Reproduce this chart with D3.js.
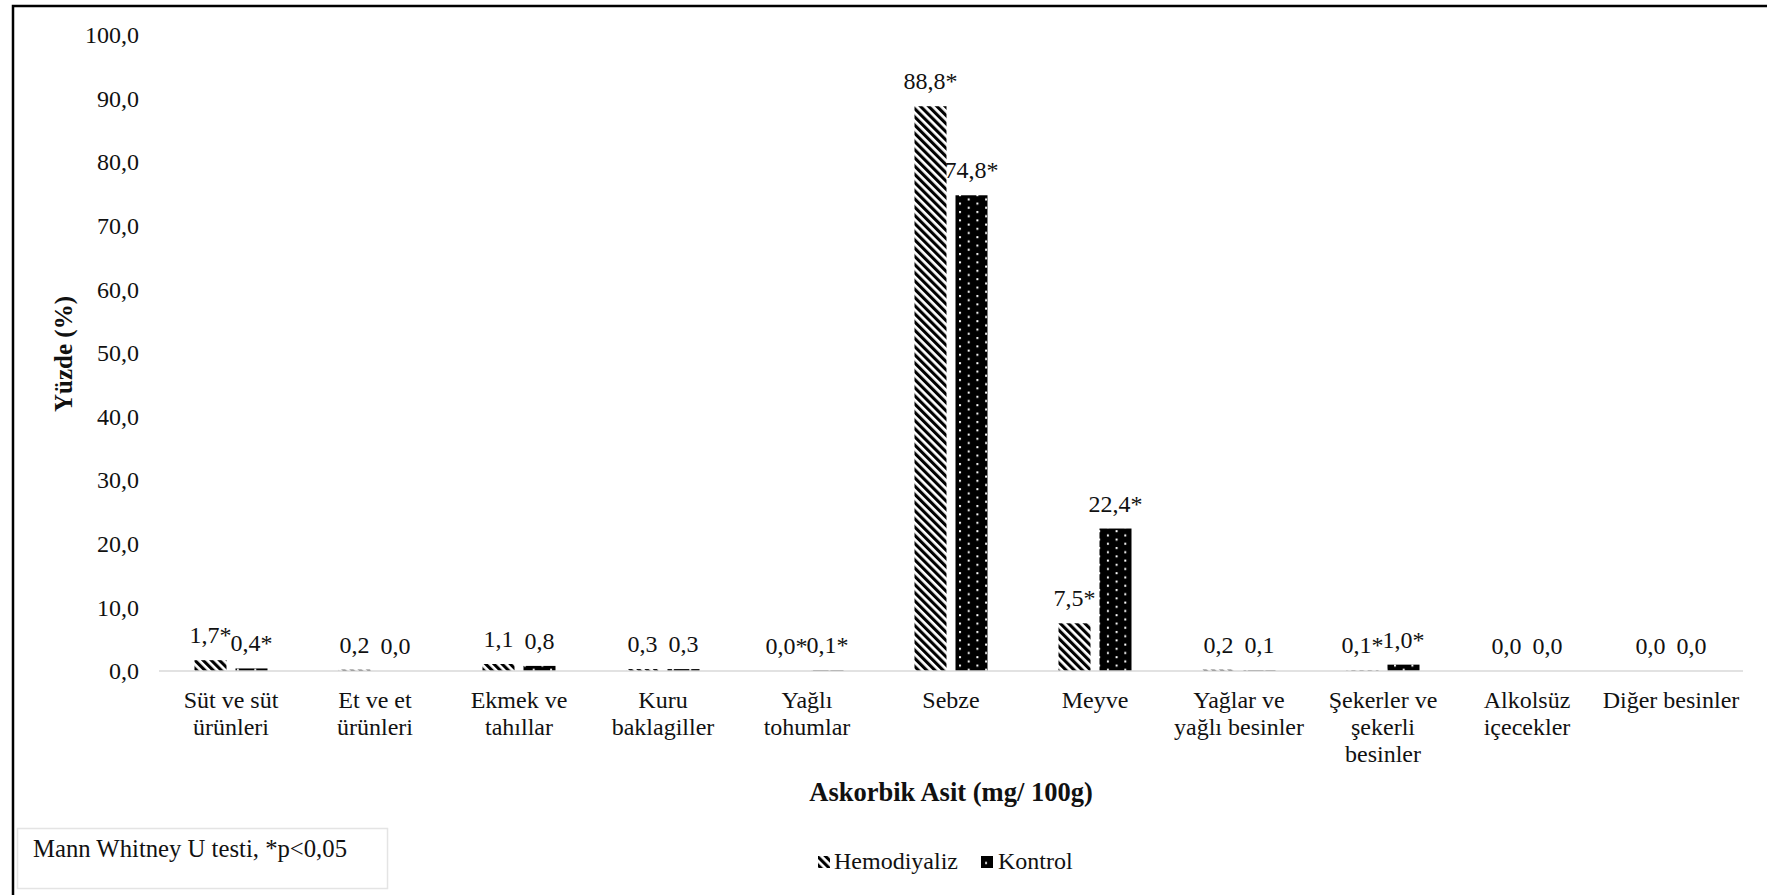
<!DOCTYPE html>
<html>
<head>
<meta charset="utf-8">
<script src="https://cdn.jsdelivr.net/npm/d3@7"></script>
<style>
  html, body { margin: 0; padding: 0; background: #fff; }
  svg { display: block; }
  text { font-family: "Liberation Serif", "Times New Roman", serif; fill: #111; }
</style>
</head>
<body>
<svg id="chart" width="1767" height="895"></svg>
<script>
// Food groups (x-axis categories), with their wrapped label lines
const categories = [
  "Süt ve süt ürünleri", "Et ve et ürünleri", "Ekmek ve tahıllar", "Kuru baklagiller",
  "Yağlı tohumlar", "Sebze", "Meyve", "Yağlar ve yağlı besinler",
  "Şekerler ve şekerli besinler", "Alkolsüz içecekler", "Diğer besinler"
];
const categoryLines = [
  ["Süt ve süt", "ürünleri"], ["Et ve et", "ürünleri"], ["Ekmek ve", "tahıllar"],
  ["Kuru", "baklagiller"], ["Yağlı", "tohumlar"], ["Sebze"], ["Meyve"],
  ["Yağlar ve", "yağlı besinler"], ["Şekerler ve", "şekerli", "besinler"],
  ["Alkolsüz", "içecekler"], ["Diğer besinler"]
];

// Share of ascorbic acid intake (%) per group
const seriesNames = ["Hemodiyaliz", "Kontrol"];
const hemodiyaliz = [1.7, 0.2, 1.1, 0.3, 0.0, 88.8, 7.5, 0.2, 0.1, 0.0, 0.0];
const kontrol     = [0.4, 0.0, 0.8, 0.3, 0.1, 74.8, 22.4, 0.1, 1.0, 0.0, 0.0];
// Mann Whitney U, p<0.05 markers
const hemodiyalizSig = [true, false, false, false, true, true, true, false, true, false, false];
const kontrolSig     = [true, false, false, false, true, true, true, false, true, false, false];

const yTicks = [0, 10, 20, 30, 40, 50, 60, 70, 80, 90, 100];
const xTitle = "Askorbik Asit (mg/ 100g)";
const yTitle = "Yüzde (%)";
const footnote = "Mann Whitney U testi, *p<0,05";

const fmt = v => d3.format(".1f")(v).replace(".", ",");

const svg = d3.select("#chart");
const defs = svg.append("defs");

// Diagonal hatch for Hemodiyaliz
const hatch = defs.append("pattern")
  .attr("id", "hatch").attr("patternUnits", "userSpaceOnUse")
  .attr("width", 5.8).attr("height", 8)
  .attr("patternTransform", "rotate(-45)");
hatch.append("rect").attr("width", 5.8).attr("height", 8).attr("fill", "#fff");
hatch.append("rect").attr("width", 3.1).attr("height", 8).attr("fill", "#000");

// Black fill with staggered white dots for Kontrol
const dots = defs.append("pattern")
  .attr("id", "dots").attr("patternUnits", "userSpaceOnUse")
  .attr("x", 2).attr("y", 0)
  .attr("width", 17.4).attr("height", 8.4);
dots.append("rect").attr("width", 17.4).attr("height", 8.4).attr("fill", "#000");
dots.append("rect").attr("x", 0).attr("y", 1).attr("width", 2).attr("height", 2).attr("fill", "#fff");
dots.append("rect").attr("x", 8.7).attr("y", 5.2).attr("width", 2).attr("height", 2).attr("fill", "#fff");

const fills = ["url(#hatch)", "url(#dots)"];

// Outer frame
svg.append("rect")
  .attr("x", 13).attr("y", 6).attr("width", 1800).attr("height", 1000)
  .attr("fill", "none").attr("stroke", "#000").attr("stroke-width", 2.5);

const plot = { left: 159, right: 1743, top: 35, bottom: 671 };

const x = d3.scaleBand().domain(categories).range([plot.left, plot.right]).padding(0);
const y = d3.scaleLinear().domain([0, 100]).range([plot.bottom, plot.top]);

const barW = 32, barGap = 9;
const offsets = [-barGap / 2 - barW, barGap / 2];

// Y tick labels (no axis line)
const yAxis = d3.axisLeft(y).tickValues(yTicks).tickFormat(fmt).tickSize(0).tickPadding(0);
const gy = svg.append("g").attr("transform", `translate(139,0)`).call(yAxis);
gy.select(".domain").remove();
gy.selectAll("text")
  .attr("font-size", 24).attr("fill", "#111")
  .style("font-family", '"Liberation Serif", serif');

// Bars
const series = [
  { name: seriesNames[0], values: hemodiyaliz, sig: hemodiyalizSig },
  { name: seriesNames[1], values: kontrol, sig: kontrolSig }
];

series.forEach((s, si) => {
  const g = svg.append("g");
  g.selectAll("rect")
    .data(categories)
    .join("rect")
    .attr("x", (c) => x(c) + x.bandwidth() / 2 + offsets[si])
    .attr("y", (c, i) => y(s.values[i]))
    .attr("width", barW)
    .attr("height", (c, i) => y(0) - y(s.values[i]))
    .attr("fill", fills[si]);

  g.selectAll("text")
    .data(categories)
    .join("text")
    .attr("x", (c) => x(c) + x.bandwidth() / 2 + offsets[si] + barW / 2)
    .attr("y", (c, i) => y(s.values[i]) - 17)
    .attr("text-anchor", "middle")
    .attr("font-size", 24)
    .text((c, i) => fmt(s.values[i]) + (s.sig[i] ? "*" : ""));
});

// X axis line
svg.append("line")
  .attr("x1", plot.left).attr("x2", plot.right)
  .attr("y1", y(0)).attr("y2", y(0))
  .attr("stroke", "#d9d9d9").attr("stroke-width", 1.5);

// Category labels
const catG = svg.append("g");
categories.forEach((c, i) => {
  const t = catG.append("text")
    .attr("x", x(c) + x.bandwidth() / 2)
    .attr("y", 708)
    .attr("text-anchor", "middle")
    .attr("font-size", 24);
  categoryLines[i].forEach((line, li) => {
    t.append("tspan")
      .attr("x", x(c) + x.bandwidth() / 2)
      .attr("dy", li === 0 ? 0 : 27)
      .text(line);
  });
});

// Axis titles
svg.append("text")
  .attr("x", 951).attr("y", 801)
  .attr("text-anchor", "middle")
  .attr("font-size", 26.5).attr("font-weight", "bold")
  .text(xTitle);

svg.append("text")
  .attr("transform", "translate(72,354) rotate(-90)")
  .attr("text-anchor", "middle")
  .attr("font-size", 25).attr("font-weight", "bold")
  .text(yTitle);

// Legend
const legend = svg.append("g");
const legendItems = [
  { name: seriesNames[0], fill: fills[0], sx: 818, tx: 834 },
  { name: seriesNames[1], fill: fills[1], sx: 981, tx: 998 }
];
legendItems.forEach(it => {
  legend.append("rect")
    .attr("x", it.sx).attr("y", 856).attr("width", 12).attr("height", 12)
    .attr("fill", it.fill);
  legend.append("text")
    .attr("x", it.tx).attr("y", 869)
    .attr("font-size", 24)
    .text(it.name);
});

// Significance note box
const note = svg.append("g");
note.append("rect")
  .attr("x", 17.5).attr("y", 828.5).attr("width", 370).attr("height", 60)
  .attr("fill", "#fff").attr("stroke", "#e4e4e4").attr("stroke-width", 1.5);
note.append("text")
  .attr("x", 33).attr("y", 857)
  .attr("font-size", 25)
  .attr("fill", "#222")
  .attr("textLength", 314).attr("lengthAdjust", "spacingAndGlyphs")
  .text(footnote);
</script>
</body>
</html>
